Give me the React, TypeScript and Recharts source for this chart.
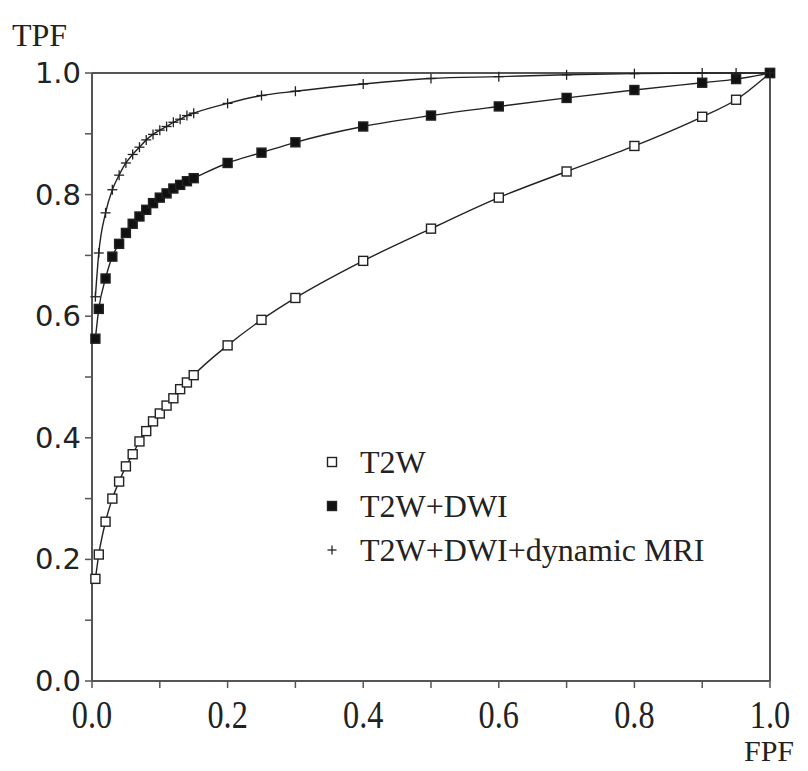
import { Line, LineChart, ReferenceLine, XAxis, YAxis } from "recharts";

// false positive fraction, shared by all three curves
const FPF = [
  0.005, 0.01, 0.02, 0.03, 0.04, 0.05, 0.06, 0.07, 0.08, 0.09, 0.1, 0.11, 0.12, 0.13, 0.14, 0.15,
  0.2, 0.25, 0.3, 0.4, 0.5, 0.6, 0.7, 0.8, 0.9, 0.95, 1.0,
];

const T2W = [
  0.168, 0.208, 0.262, 0.3, 0.328, 0.353, 0.373, 0.394, 0.411, 0.427, 0.44, 0.453, 0.465, 0.48, 0.491, 0.503,
  0.552, 0.594, 0.63, 0.691, 0.744, 0.795, 0.838, 0.88, 0.928, 0.956, 1.0,
];

const T2W_DWI = [
  0.563, 0.612, 0.662, 0.698, 0.719, 0.737, 0.752, 0.764, 0.775, 0.786, 0.795, 0.802, 0.81, 0.816, 0.822, 0.827,
  0.852, 0.869, 0.886, 0.912, 0.93, 0.945, 0.959, 0.972, 0.984, 0.99, 1.0,
];

const T2W_DWI_DYN = [
  0.632, 0.704, 0.77, 0.808, 0.832, 0.852, 0.866, 0.878, 0.89, 0.899, 0.906, 0.912, 0.919, 0.924, 0.93, 0.934,
  0.95, 0.963, 0.97, 0.982, 0.991, 0.994, 0.997, 0.999, 1.0, 1.0, 1.0,
];

const TICKS = [0, 0.1, 0.2, 0.3, 0.4, 0.5, 0.6, 0.7, 0.8, 0.9, 1.0];

const LEGEND = [
  { label: "T2W", kind: "open" },
  { label: "T2W+DWI", kind: "filled" },
  { label: "T2W+DWI+dynamic MRI", kind: "plus" },
];

const data = FPF.map((x, i) => ({ x, t2w: T2W[i], dwi: T2W_DWI[i], dyn: T2W_DWI_DYN[i] }));

const INK = "#222";
const AXIS = "#555";
const SERIF = "'Liberation Serif', 'Times New Roman', serif";
const SANS = "'DejaVu Sans', Verdana, sans-serif";

const isLabelled = (v: number) => Math.round(v * 10) % 2 === 0;

function Marker({ kind, cx, cy, size }: { kind: string; cx: number; cy: number; size: number }) {
  const h = size / 2;
  if (kind === "plus") {
    return (
      <g stroke={INK} strokeWidth={1.3}>
        <line x1={cx - h} x2={cx + h} y1={cy} y2={cy} />
        <line x1={cx} x2={cx} y1={cy - h} y2={cy + h} />
      </g>
    );
  }
  return (
    <rect
      x={cx - h}
      y={cy - h}
      width={size}
      height={size}
      fill={kind === "filled" ? "#111" : "#fff"}
      stroke={INK}
      strokeWidth={1.4}
    />
  );
}

const dotOf = (kind: string) => (props: any) => (
  <Marker key={`${kind}-${props.index}`} kind={kind} cx={props.cx} cy={props.cy} size={kind === "plus" ? 10 : 9} />
);

function XTick({ x, y, payload }: any) {
  if (!isLabelled(payload.value)) return null;
  return (
    <text
      transform={`translate(${x},${y + 38}) scale(0.95,1.2)`}
      textAnchor="middle"
      fontFamily={SERIF}
      fontSize={34}
      fill={INK}
    >
      {payload.value.toFixed(1)}
    </text>
  );
}

function YTick({ x, y, payload }: any) {
  if (!isLabelled(payload.value)) return null;
  return (
    <text x={x} y={y + 10} textAnchor="end" fontFamily={SANS} fontSize={29} fill={INK}>
      {payload.value.toFixed(1)}
    </text>
  );
}

export default function App() {
  return (
    <div style={{ position: "relative", width: 808, height: 771, background: "#fff", overflow: "hidden" }}>
      <style>{"body{margin:0}"}</style>
      <LineChart
        width={808}
        height={771}
        data={data}
        margin={{ top: 73, right: 38, bottom: 50, left: 32 }}
      >
        <XAxis
          type="number"
          dataKey="x"
          domain={[0, 1]}
          ticks={TICKS}
          interval={0}
          height={40}
          tick={<XTick />}
          tickSize={7}
          tickLine={{ stroke: AXIS, strokeWidth: 1.5 }}
          axisLine={{ stroke: AXIS, strokeWidth: 2 }}
        />
        <YAxis
          type="number"
          domain={[0, 1]}
          ticks={TICKS}
          interval={0}
          width={60}
          tick={<YTick />}
          tickSize={7}
          tickMargin={4}
          tickLine={{ stroke: AXIS, strokeWidth: 1.5 }}
          axisLine={{ stroke: AXIS, strokeWidth: 2 }}
        />
        <ReferenceLine y={1} stroke={AXIS} strokeWidth={2} />
        <ReferenceLine x={1} stroke={AXIS} strokeWidth={2} />
        <Line
          type="monotone"
          dataKey="t2w"
          stroke={INK}
          strokeWidth={1.4}
          dot={dotOf("open")}
          isAnimationActive={false}
        />
        <Line
          type="monotone"
          dataKey="dwi"
          stroke={INK}
          strokeWidth={1.4}
          dot={dotOf("filled")}
          isAnimationActive={false}
        />
        <Line
          type="monotone"
          dataKey="dyn"
          stroke={INK}
          strokeWidth={1.4}
          dot={dotOf("plus")}
          isAnimationActive={false}
        />
      </LineChart>

      <svg style={{ position: "absolute", left: 0, top: 0 }} width={808} height={771} pointerEvents="none">
        <text x={12} y={46} fontFamily={SERIF} fontSize={32} fill={INK}>
          TPF
        </text>
        <text x={744} y={761} fontFamily={SERIF} fontSize={30} fill={INK}>
          FPF
        </text>
        {LEGEND.map((item, i) => {
          const cy = 462 + i * 44;
          return (
            <g key={item.label}>
              <Marker kind={item.kind} cx={332} cy={cy} size={9} />
              <text x={360} y={cy + 11} fontFamily={SERIF} fontSize={32} fill={INK}>
                {item.label}
              </text>
            </g>
          );
        })}
      </svg>
    </div>
  );
}
